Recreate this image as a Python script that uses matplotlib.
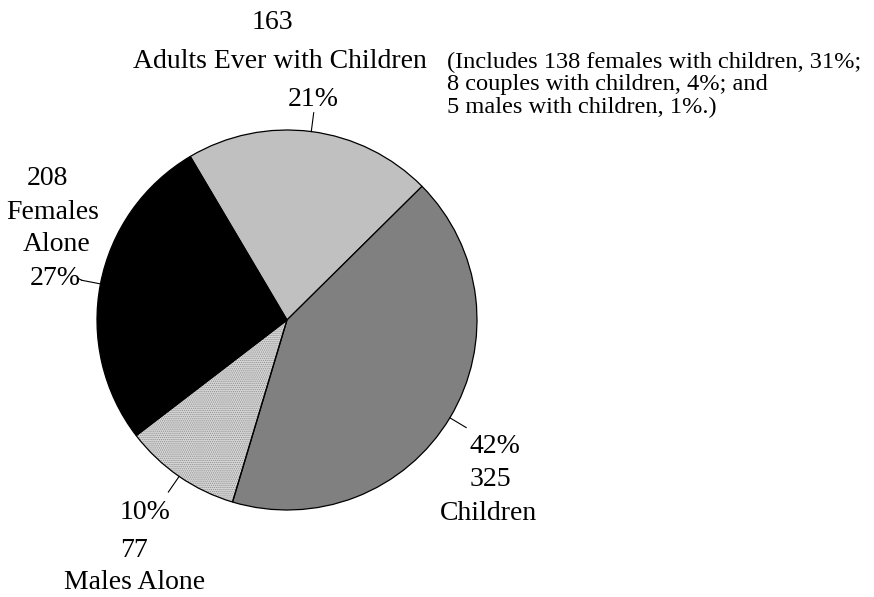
import matplotlib.pyplot as plt
import matplotlib.patches as mpatches
import numpy as np

plt.rcParams['font.family'] = ['Liberation Serif', 'DejaVu Serif']
plt.rcParams['hatch.linewidth'] = 0.6

# household counts, drawn counter-clockwise starting with the adults slice
groups = ['Adults Ever with Children', 'Females Alone', 'Males Alone', 'Children']
counts = [163, 208, 77, 325]
fills = ['#c0c0c0', '#000000', 'none', '#808080']

note_lines = ['(Includes 138 females with children, 31%;',
              '8 couples with children, 4%; and',
              '5 males with children, 1%.)']

total = sum(counts)
pcts = ['%d%%' % round(100 * c / total) for c in counts]

fig = plt.figure(figsize=(8.74, 5.97), dpi=100)
ax = fig.add_axes([0, 0, 1, 1])

wedges, _ = ax.pie(counts, colors=fills, startangle=44.7, counterclock=True,
                   radius=1.0, center=(0, 0), frame=False,
                   wedgeprops=dict(edgecolor='black', linewidth=0.9))
ax.set_xlim(-1.5105, 3.0895)
ax.set_ylim(-1.4579, 1.6842)
ax.set_aspect('equal')
ax.axis('off')

# stippled fill for the males slice, laid under the outline
m = wedges[2]
stip = mpatches.Wedge(m.center, m.r, m.theta1, m.theta2, facecolor='#d6d6d6',
                      edgecolor='#909090', hatch='........', linewidth=0, zorder=0.5)
ax.add_patch(stip)
m.set_zorder(1.5)

# short radial leaders from each slice midpoint
for w in wedges:
    a = np.deg2rad((w.theta1 + w.theta2) / 2)
    ax.plot([np.cos(a), 1.1 * np.cos(a)], [np.sin(a), 1.1 * np.sin(a)],
            color='black', lw=0.8)
# females leader bends toward its label
a = np.deg2rad((wedges[1].theta1 + wedges[1].theta2) / 2)
ax.plot([1.1 * np.cos(a), 1.1 * np.cos(a) - 0.02], [1.1 * np.sin(a), 1.1 * np.sin(a) + 0.01],
        color='black', lw=0.8)

fs = 20
txt = dict(fontsize=fs, ha='center', va='center', color='black')

ax.text(-0.079, 1.568, str(counts[0]), **txt)
ax.text(-0.037, 1.363, groups[0], **txt)
ax.text(0.137, 1.158, pcts[0], **txt)

ax.text(-1.263, 0.747, str(counts[1]), **txt)
ax.text(-1.232, 0.568, 'Females', **txt)
ax.text(-1.21, 0.395, 'Alone', **txt)
ax.text(-1.221, 0.221, pcts[1], **txt)

ax.text(-0.747, -1.011, pcts[2], **txt)
ax.text(-0.805, -1.211, str(counts[2]), **txt)
ax.text(-0.8, -1.384, groups[2], **txt)

ax.text(1.095, -0.668, pcts[3], **txt)
ax.text(1.068, -0.842, str(counts[3]), **txt)
ax.text(1.063, -1.016, groups[3], **txt)

for i, line in enumerate(note_lines):
    ax.text(0.842, 1.353 - 0.116 * i, line, fontsize=17.6, ha='left', va='center')

fig.savefig('out.png', dpi=100)
